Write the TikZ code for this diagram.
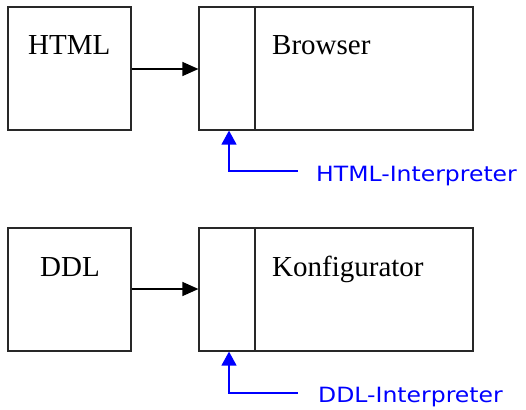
\documentclass[tikz,border=0pt]{standalone}
\usepackage{fontspec}
\setmainfont{Liberation Serif}
\newfontfamily\bluefont[FakeStretch=1.12]{DejaVu Sans}
\usetikzlibrary{arrows.meta}
\definecolor{pureblue}{RGB}{0,0,255}
\definecolor{linegray}{RGB}{40,40,40}
\tikzset{
  box/.style={draw=linegray, line width=1.2pt, rectangle, inner sep=0pt, minimum height=123pt},
  title/.style={font=\fontsize{29}{30}\selectfont, anchor=base west, inner sep=0pt},
  flow/.style={draw=black, line width=1.3pt, -{Triangle[length=16pt,width=14pt]}},
  interp/.style={draw=pureblue, line width=1.4pt, {Triangle[length=14pt,width=15pt]}-},
  interptext/.style={text=pureblue, font=\bluefont\fontsize{21}{22}\selectfont, anchor=base west, inner sep=0pt}
}
\begin{document}
\begin{tikzpicture}[x=1pt,y=-1pt]
\useasboundingbox (0,0) rectangle (526,409);
% top row
\node[box, minimum width=123pt] (html) at (69.5,68.5) {};
\node[box, minimum width=56pt] (ip1) at (227,68.5) {};
\node[box, minimum width=218pt] (browser) at (364,68.5) {};
\node[title] (htmltext) at (28,55) {HTML};
\node[title] (browsertext) at (272,55) {Browser};
\draw[flow] (html.east |- 0,69) -- (ip1.west |- 0,69);
\coordinate (c1) at (229,171);
\node[interptext] (ip1text) at (316,181) {HTML-Interpreter};
\draw[interp] (ip1.south -| c1) -- (c1) -- (298,171);
% bottom row
\node[box, minimum width=123pt] (ddl) at (69.5,289.5) {};
\node[box, minimum width=56pt] (ip2) at (227,289.5) {};
\node[box, minimum width=218pt] (konf) at (364,289.5) {};
\node[title] (ddltext) at (40,276) {DDL};
\node[title] (konftext) at (272,276) {Konfigurator};
\draw[flow] (ddl.east |- 0,289) -- (ip2.west |- 0,289);
\coordinate (c2) at (229,393);
\node[interptext] (ip2text) at (318,402) {DDL-Interpreter};
\draw[interp] (ip2.south -| c2) -- (c2) -- (298,393);
\end{tikzpicture}
\end{document}
